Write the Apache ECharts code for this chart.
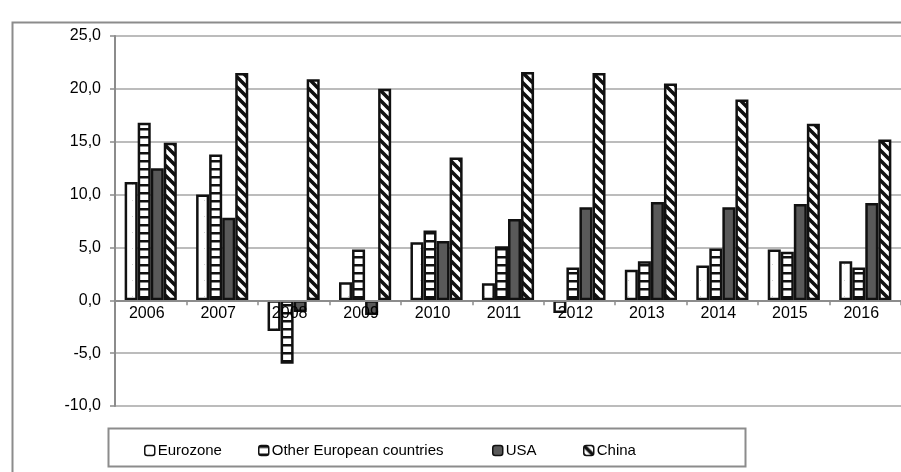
<!DOCTYPE html>
<html>
<head>
<meta charset="utf-8">
<script src="https://cdn.jsdelivr.net/npm/echarts@6/dist/echarts.min.js"></script>
<style>
  html, body { margin: 0; padding: 0; background: #fff; }
  #chart { width: 901px; height: 472px; }
</style>
</head>
<body>
<div id="chart"></div>
<script>
// Years on the category axis
const years = ['2006', '2007', '2008', '2009', '2010', '2011', '2012', '2013', '2014', '2015', '2016'];

// Annual change, per cent
const eurozone = [11.2, 10.0, -2.9, 1.7, 5.5, 1.6, -1.2, 2.9, 3.3, 4.8, 3.7];
const otherEurope = [16.8, 13.8, -6.0, 4.8, 6.6, 5.1, 3.1, 3.7, 4.9, 4.6, 3.1];
const usa = [12.5, 7.8, -1.1, -1.4, 5.6, 7.7, 8.8, 9.3, 8.8, 9.1, 9.2];
const china = [14.9, 21.5, 20.9, 20.0, 13.5, 21.6, 21.5, 20.5, 19.0, 16.7, 15.2];

// Value axis range and step
const yMin = -10;
const yMax = 25;
const yStep = 5;

// plot box
const gridTop = 36;
const gridBottom = 66;
const gridHeight = 472 - gridTop - gridBottom;

function tile(w, h, paint) {
  const c = document.createElement('canvas');
  c.width = w;
  c.height = h;
  const ctx = c.getContext('2d');
  ctx.fillStyle = '#fff';
  ctx.fillRect(0, 0, w, h);
  paint(ctx, w, h);
  return { image: c, repeat: 'repeat' };
}

// white with sparse faint dots
const dotFill = tile(8, 16, (ctx) => {
  ctx.fillStyle = '#d0d0d0';
  ctx.fillRect(4, 8, 1, 1);
});

// horizontal black stripes
const hStripeFill = tile(8, 8, (ctx, w) => {
  ctx.fillStyle = '#111';
  ctx.fillRect(0, 0, w, 2.5);
});

// downward diagonal stripes
const diagFill = tile(10, 10, (ctx) => {
  ctx.strokeStyle = '#111';
  ctx.lineWidth = 3.6;
  ctx.beginPath();
  for (const k of [-10, 0, 10]) {
    ctx.moveTo(k - 1, -1);
    ctx.lineTo(k + 11, 11);
  }
  ctx.stroke();
});

const chart = echarts.init(document.getElementById('chart'), null, { renderer: 'canvas' });

const font = 'Liberation Sans, Arial, sans-serif';

function barSeries(name, data, fill) {
  return {
    name: name,
    type: 'bar',
    data: data,
    barGap: '0%',
    barCategoryGap: '27%',
    itemStyle: { color: fill, borderColor: '#111', borderWidth: 2.5 },
    emphasis: { disabled: true }
  };
}

function legendItem(name, left) {
  return {
    data: [name],
    left: left,
    top: 438,
    itemWidth: 10,
    itemHeight: 10,
    itemGap: 0,
    selectedMode: false,
    itemStyle: { borderWidth: 1.5, borderColor: '#111' },
    textStyle: { fontFamily: font, fontSize: 15, color: '#000', padding: [0, 0, 0, -2] }
  };
}

chart.setOption({
  animation: false,
  textStyle: { fontFamily: font },
  graphic: [
    {
      type: 'rect',
      shape: { x: 12.5, y: 22.5, width: 1000, height: 1000 },
      style: { fill: 'none', stroke: '#8c8c8c', lineWidth: 2 },
      silent: true,
      z: -10
    },
    {
      type: 'rect',
      shape: { x: 108.5, y: 428.5, width: 637, height: 38 },
      style: { fill: 'none', stroke: '#8c8c8c', lineWidth: 2 },
      silent: true,
      z: -10
    }
  ],
  legend: [
    legendItem('Eurozone', 139),
    legendItem('Other European countries', 253),
    legendItem('USA', 487),
    legendItem('China', 578)
  ],
  grid: { left: 115, right: -2, top: gridTop, bottom: gridBottom, containLabel: false },
  xAxis: {
    type: 'category',
    data: years,
    boundaryGap: true,
    // category axis sits on the value 0 line
    offset: -gridHeight * (0 - yMin) / (yMax - yMin),
    axisLine: { onZero: false, lineStyle: { color: '#8c8c8c', width: 2 } },
    axisTick: { show: true, length: 5, lineStyle: { color: '#8c8c8c', width: 1.5 } },
    axisLabel: { color: '#000', fontSize: 16, fontFamily: font, margin: 5, padding: [0, 8, 0, 0] },
    splitLine: { show: false },
    z: 5
  },
  yAxis: {
    type: 'value',
    min: yMin,
    max: yMax,
    interval: yStep,
    axisLine: { show: true, lineStyle: { color: '#8c8c8c', width: 2 } },
    axisTick: { show: true, length: 5, lineStyle: { color: '#8c8c8c', width: 1.5 } },
    axisLabel: {
      color: '#000',
      fontSize: 16,
      fontFamily: font,
      margin: 14,
      formatter: (v) => v.toFixed(1).replace('.', ',')
    },
    splitLine: { show: true, lineStyle: { color: '#a6a6a6', width: 1.5 } }
  },
  series: [
    barSeries('Eurozone', eurozone, dotFill),
    barSeries('Other European countries', otherEurope, hStripeFill),
    barSeries('USA', usa, '#595959'),
    barSeries('China', china, diagFill)
  ]
});
</script>
</body>
</html>
